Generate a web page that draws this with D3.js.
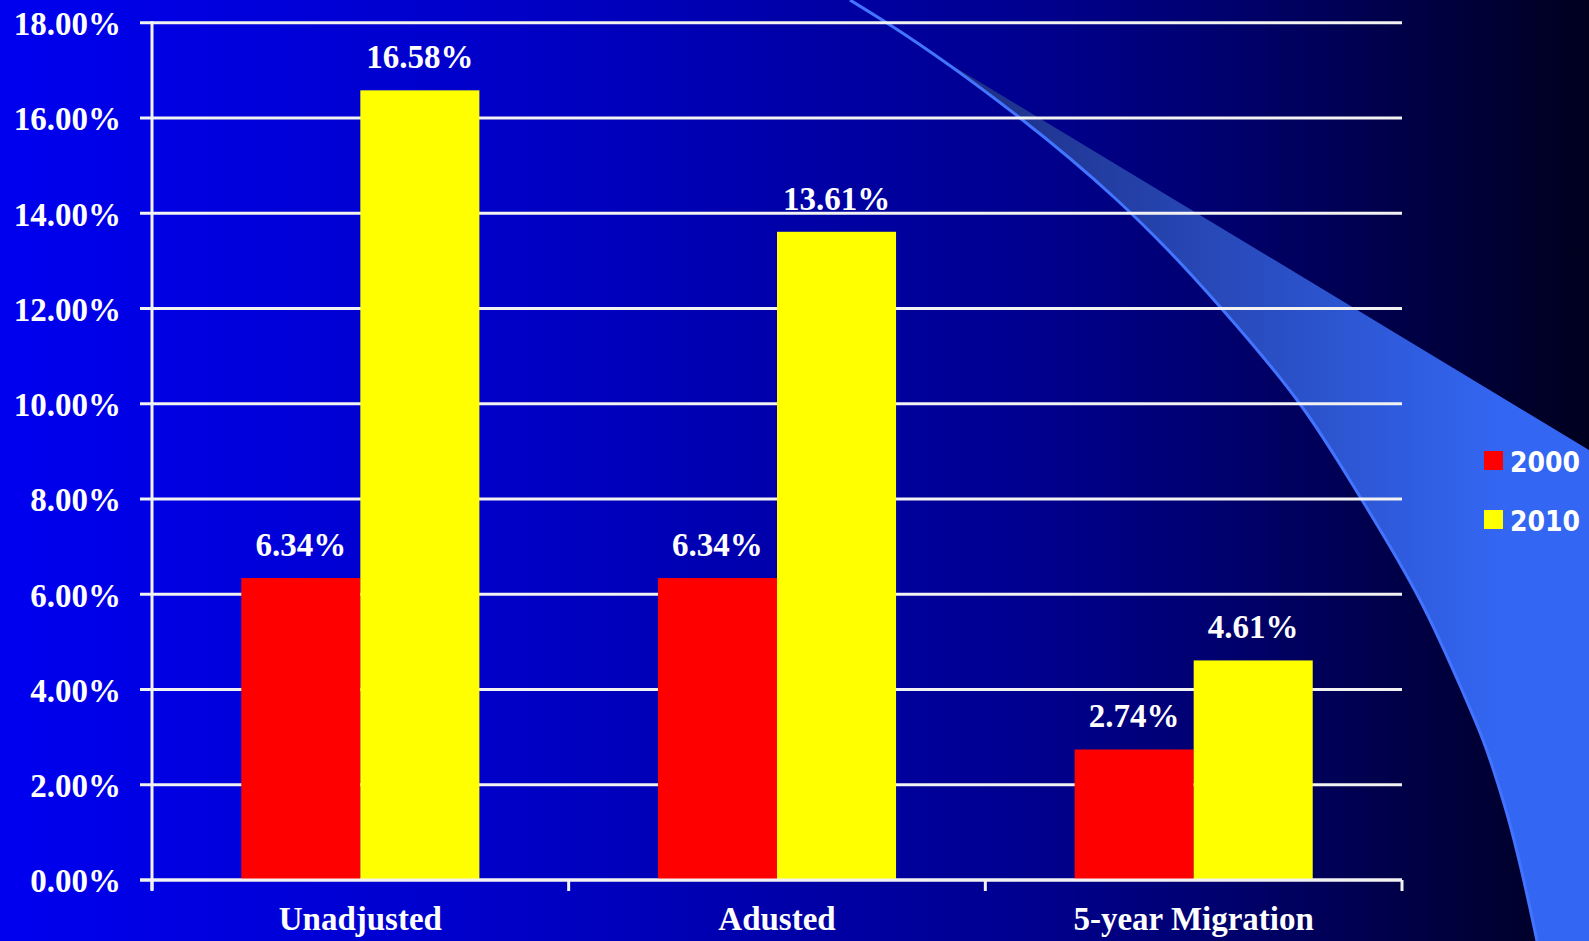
<!DOCTYPE html>
<html lang="en">
<head>
    <meta charset="UTF-8">
    <title>Unadjusted / Adusted / 5-year Migration</title>
    <script src="https://d3js.org/d3.v7.min.js"></script>
    <style>
        body {
            margin: 0;
            padding: 0;
            overflow: hidden;
        }
        .lbl {
            font-family: "Liberation Serif", "Times New Roman", serif;
            font-weight: bold;
            font-size: 33px;
            fill: #ffffff;
        }
        .leg {
            font-family: "DejaVu Sans Condensed", "DejaVu Sans", sans-serif;
            font-stretch: condensed;
            font-weight: bold;
            font-size: 28px;
            fill: #ffffff;
        }
    </style>
</head>
<body>
    <script>
        // data
        var categories = ["Unadjusted", "Adusted", "5-year Migration"];
        var seriesNames = ["2000", "2010"];
        var values2000 = [0.0634, 0.0634, 0.0274];
        var values2010 = [0.1658, 0.1361, 0.0461];
        var yTicks = [0, 0.02, 0.04, 0.06, 0.08, 0.10, 0.12, 0.14, 0.16, 0.18];
        var colors = ["#ff0000", "#ffff00"];

        var width = 1589;
        var height = 941;

        // plot area
        var plotLeft = 152, plotRight = 1402, plotTop = 22.7, plotBottom = 880;

        var svg = d3.select("body").append("svg")
            .attr("width", width)
            .attr("height", height);

        var defs = svg.append("defs");

        // background: blue on the left fading to near black on the right
        var bg = defs.append("linearGradient")
            .attr("id", "bg")
            .attr("x1", "0%").attr("x2", "100%")
            .attr("y1", "0%").attr("y2", "0%");
        [[0, "rgb(0,0,240)"], [0.35, "rgb(0,0,195)"], [0.52, "rgb(0,0,164)"],
         [0.66, "rgb(0,0,140)"], [0.77, "rgb(0,0,110)"], [0.88, "rgb(0,0,72)"],
         [1, "rgb(0,0,30)"]].forEach(function(s) {
            bg.append("stop").attr("offset", s[0]).attr("stop-color", s[1]);
        });

        var sw = defs.append("linearGradient")
            .attr("id", "swoosh")
            .attr("gradientUnits", "userSpaceOnUse")
            .attr("x1", 900).attr("x2", 1500)
            .attr("y1", 0).attr("y2", 0);
        sw.append("stop").attr("offset", 0).attr("stop-color", "#1b2878");
        sw.append("stop").attr("offset", 1).attr("stop-color", "#3366f2");

        svg.append("rect")
            .attr("width", width)
            .attr("height", height)
            .attr("fill", "url(#bg)");

        // decorative swoosh of the slide template
        var edgeLeft = [[915, 43], [1020, 118], [1117, 200], [1168, 250], [1222, 309],
            [1300, 404], [1362, 500], [1420, 600], [1462, 690], [1483, 740],
            [1505, 807], [1537, 941]];
        var curve = d3.line().curve(d3.curveMonotoneY);

        svg.append("path")
            .attr("d", curve(edgeLeft) + "L1589,941L1589,450L915,43Z")
            .attr("fill", "url(#swoosh)");

        svg.append("path")
            .attr("d", curve([[850, 0], [887, 23]].concat(edgeLeft.slice(1))))
            .attr("fill", "none")
            .attr("stroke", "#4274ff")
            .attr("stroke-width", 3);

        // scales
        var x = d3.scaleBand()
            .domain(categories)
            .range([plotLeft, plotRight])
            .padding(0);

        var xs = d3.scaleBand()
            .domain(seriesNames)
            .range([0, x.bandwidth()])
            .paddingInner(0)
            .paddingOuter(0.75);

        var y = d3.scaleLinear()
            .domain([0, 0.18])
            .range([plotBottom, plotTop]);

        // gridlines (with the little tick that sticks out on the left)
        svg.append("g")
            .selectAll("line")
            .data(yTicks)
            .join("line")
            .attr("x1", plotLeft - 12)
            .attr("x2", plotRight)
            .attr("y1", function(d) { return y(d); })
            .attr("y2", function(d) { return y(d); })
            .attr("stroke", "#f2f2f2")
            .attr("stroke-width", 3);

        // y axis labels
        var yAxis = d3.axisLeft(y)
            .tickValues(yTicks)
            .tickFormat(d3.format(".2%"))
            .tickSize(0)
            .tickPadding(31);

        var gy = svg.append("g")
            .attr("transform", "translate(" + plotLeft + ",0)")
            .call(yAxis);
        gy.attr("font-family", null).attr("font-size", null);
        gy.select(".domain").remove();
        gy.selectAll("text")
            .attr("class", "lbl")
            .attr("dy", "0.36em");

        // bars
        var rows = categories.map(function(c, i) {
            return { cat: c, vals: [values2000[i], values2010[i]] };
        });

        var groups = svg.append("g")
            .selectAll("g")
            .data(rows)
            .join("g")
            .attr("transform", function(d) { return "translate(" + x(d.cat) + ",0)"; });

        groups.selectAll("rect")
            .data(function(d) {
                return d.vals.map(function(v, j) { return { key: seriesNames[j], v: v, j: j }; });
            })
            .join("rect")
            .attr("x", function(d) { return xs(d.key); })
            .attr("width", xs.bandwidth())
            .attr("y", function(d) { return y(d.v); })
            .attr("height", function(d) { return y(0) - y(d.v); })
            .attr("fill", function(d) { return colors[d.j]; });

        groups.selectAll("text")
            .data(function(d) {
                return d.vals.map(function(v, j) { return { key: seriesNames[j], v: v }; });
            })
            .join("text")
            .attr("class", "lbl")
            .attr("text-anchor", "middle")
            .attr("x", function(d) { return xs(d.key) + xs.bandwidth() / 2; })
            .attr("y", function(d) { return y(d.v) - 22; })
            .text(function(d) { return d3.format(".2%")(d.v); });

        // axes lines
        svg.append("line")
            .attr("x1", plotLeft).attr("x2", plotLeft)
            .attr("y1", plotTop - 1.5).attr("y2", plotBottom + 10)
            .attr("stroke", "#f2f2f2")
            .attr("stroke-width", 3);

        svg.append("line")
            .attr("x1", plotLeft - 12).attr("x2", plotRight)
            .attr("y1", plotBottom).attr("y2", plotBottom)
            .attr("stroke", "#f2f2f2")
            .attr("stroke-width", 3);

        // category boundary ticks
        var bounds = categories.map(function(c) { return x(c); }).concat([plotRight]);
        svg.append("g")
            .selectAll("line")
            .data(bounds)
            .join("line")
            .attr("x1", function(d) { return d; })
            .attr("x2", function(d) { return d; })
            .attr("y1", plotBottom)
            .attr("y2", plotBottom + 11)
            .attr("stroke", "#f2f2f2")
            .attr("stroke-width", 3);

        // category labels
        svg.append("g")
            .selectAll("text")
            .data(categories)
            .join("text")
            .attr("class", "lbl")
            .attr("text-anchor", "middle")
            .attr("x", function(d) { return x(d) + x.bandwidth() / 2; })
            .attr("y", plotBottom + 50)
            .text(function(d) { return d; });

        // legend
        var legend = svg.append("g")
            .attr("transform", "translate(1484,451)");

        var item = legend.selectAll("g")
            .data(seriesNames)
            .join("g")
            .attr("transform", function(d, i) { return "translate(0," + (i * 59) + ")"; });

        item.append("rect")
            .attr("width", 19)
            .attr("height", 19)
            .attr("fill", function(d, i) { return colors[i]; });

        item.append("text")
            .attr("class", "leg")
            .attr("x", 26)
            .attr("y", 21)
            .text(function(d) { return d; });
    </script>
</body>
</html>
